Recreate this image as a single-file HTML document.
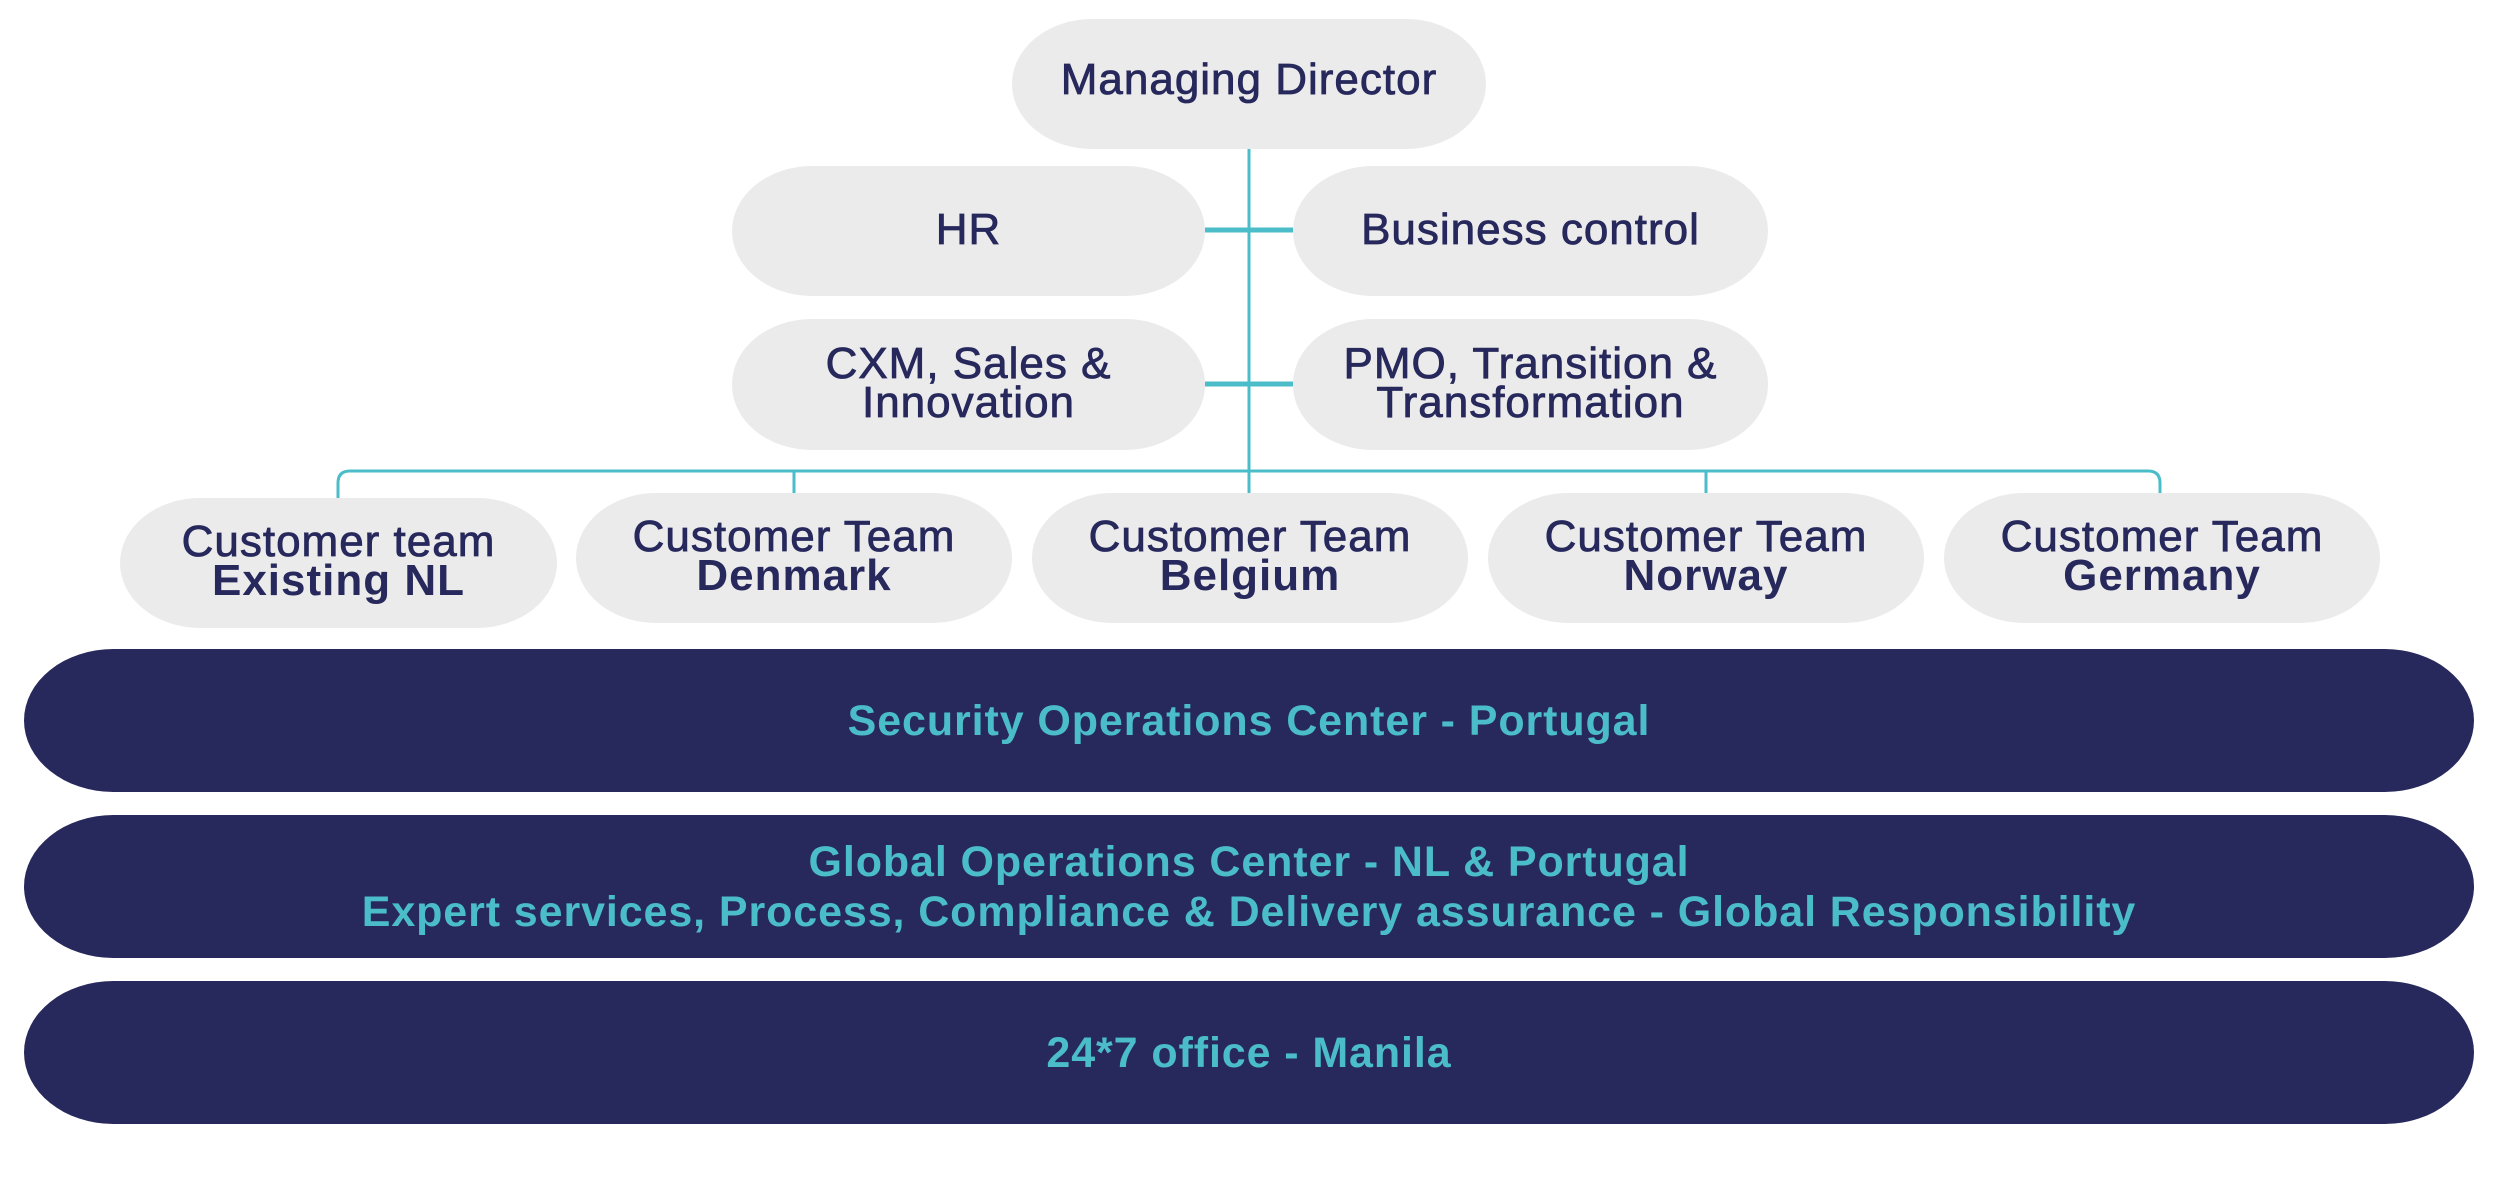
<!DOCTYPE html>
<html><head><meta charset="utf-8"><style>
html,body{margin:0;padding:0;background:#fff;}
body{width:2500px;height:1200px;position:relative;overflow:hidden;font-family:"Liberation Sans",sans-serif;}
.n{position:absolute;background:#ebebeb;color:#27285c;display:flex;align-items:center;justify-content:center;text-align:center;font-size:44px;line-height:39px;letter-spacing:1px;-webkit-text-stroke:0.8px #27285c;border-radius:80px/65px;box-sizing:border-box;padding-bottom:4px;}
.n b{-webkit-text-stroke:0;}
.bar{position:absolute;left:24px;width:2450px;background:#27285c;color:#4bbdc8;display:flex;align-items:center;justify-content:center;text-align:center;font-weight:bold;font-size:43px;line-height:50px;border-radius:90px/72px;letter-spacing:0.9px;}
svg{position:absolute;left:0;top:0;}
</style></head><body>
<svg width="2500" height="1200">
<g stroke="#4bbdc8" fill="none" stroke-width="3">
<line x1="1249" y1="148" x2="1249" y2="495"/>
<line x1="1205" y1="230" x2="1293" y2="230" stroke-width="5"/>
<line x1="1205" y1="384" x2="1293" y2="384" stroke-width="5"/>
<path d="M338 498 V483 Q338 471 350 471 H2148 Q2160 471 2160 483 V494"/>
<line x1="794" y1="471" x2="794" y2="494"/>
<line x1="1706" y1="471" x2="1706" y2="494"/>
</g>
</svg>
<div class="n" style="left:1012px;top:19px;width:474px;height:130px;padding-bottom:10px;"><div>Managing Director</div></div>
<div class="n" style="left:732px;top:166px;width:473px;height:130px;"><div>HR</div></div>
<div class="n" style="left:1293px;top:166px;width:475px;height:130px;"><div>Business control</div></div>
<div class="n" style="left:732px;top:319px;width:473px;height:131px;"><div>CXM, Sales &amp;<br>Innovation</div></div>
<div class="n" style="left:1293px;top:319px;width:475px;height:131px;"><div>PMO, Transition &amp;<br>Transformation</div></div>
<div class="n" style="left:120px;top:498px;width:437px;height:130px;"><div>Customer team<br><b>Existing NL</b></div></div>
<div class="n" style="left:576px;top:493px;width:436px;height:130px;"><div>Customer Team<br><b>Denmark</b></div></div>
<div class="n" style="left:1032px;top:493px;width:436px;height:130px;"><div>Customer Team<br><b>Belgium</b></div></div>
<div class="n" style="left:1488px;top:493px;width:436px;height:130px;"><div>Customer Team<br><b>Norway</b></div></div>
<div class="n" style="left:1944px;top:493px;width:436px;height:130px;"><div>Customer Team<br><b>Germany</b></div></div>
<div class="bar" style="top:649px;height:143px;"><div>Security Operations Center - Portugal</div></div>
<div class="bar" style="top:815px;height:143px;"><div>Global Operations Center - NL &amp; Portugal<br>Expert services, Process, Compliance &amp; Delivery assurance - Global Responsibility</div></div>
<div class="bar" style="top:981px;height:143px;"><div>24*7 office - Manila</div></div>
</body></html>
